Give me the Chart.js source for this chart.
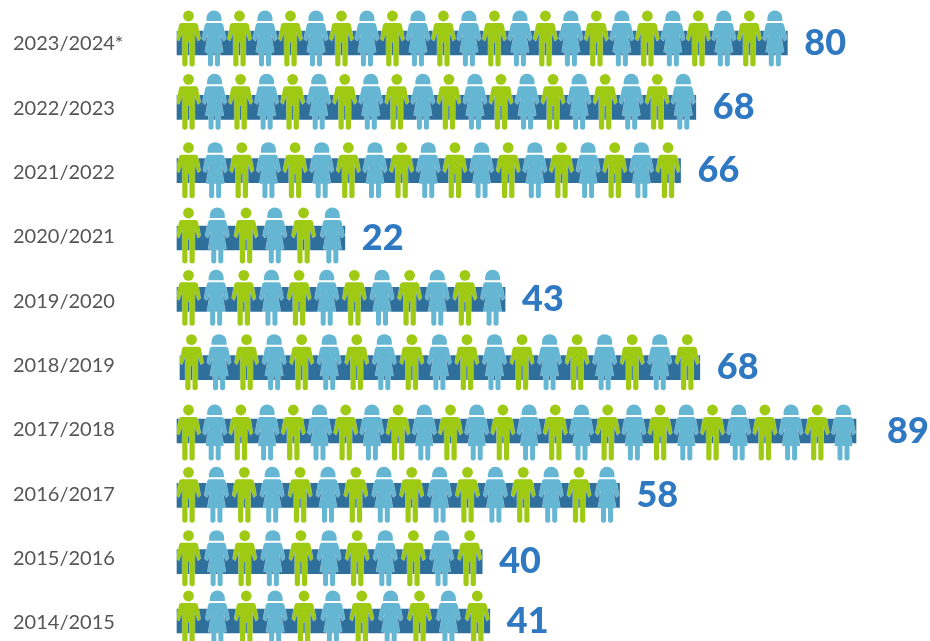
<!DOCTYPE html>
<html>
<head>
<meta charset="utf-8">
<title>Chart</title>
<script src="https://cdn.jsdelivr.net/npm/chart.js@4"></script>
<style>
  html, body { margin: 0; padding: 0; background: #fff; overflow: hidden; }
  #wrap { width: 930px; height: 641px; }
</style>
</head>
<body>
<div id="wrap"><canvas id="chart"></canvas></div>
<script>
const seasons = ['2023/2024*', '2022/2023', '2021/2022', '2020/2021', '2019/2020', '2018/2019', '2017/2018', '2016/2017', '2015/2016', '2014/2015'];
const values = [80, 68, 66, 22, 43, 68, 89, 58, 40, 41];
const figureCounts = [24, 20, 19, 6, 12, 19, 26, 16, 11, 11];

const GREEN = '#9fca13';
const BLUE = '#64b6d2';

// The original rows are hand placed, so they sit a few px off an even grid
const rowShift = [0, 0, -1, 2, -1, 3, 2, 2, 4, -1];
const figureShift = [0, -1, 4, 2, 3, -1, 6, 4, 1, 2];

// Man, drawn around the middle of the bar
function drawMan(ctx, x, y) {
  ctx.fillStyle = GREEN;
  ctx.beginPath();
  ctx.arc(x, y - 27, 5.4, 0, Math.PI * 2);
  ctx.fill();
  ctx.beginPath();
  ctx.moveTo(x - 7, y - 20);
  ctx.lineTo(x + 7, y - 20);
  ctx.quadraticCurveTo(x + 9, y - 20, x + 9.5, y - 18);
  ctx.lineTo(x + 12, y - 4);
  ctx.lineTo(x + 9.5, y - 2);
  ctx.lineTo(x + 6.2, y - 11);
  ctx.lineTo(x + 6.2, y + 22);
  ctx.quadraticCurveTo(x + 3.6, y + 25, x + 1, y + 22);
  ctx.lineTo(x + 1, y - 1);
  ctx.lineTo(x - 1, y - 1);
  ctx.lineTo(x - 1, y + 22);
  ctx.quadraticCurveTo(x - 3.6, y + 25, x - 6.2, y + 22);
  ctx.lineTo(x - 6.2, y - 11);
  ctx.lineTo(x - 9.5, y - 2);
  ctx.lineTo(x - 12, y - 4);
  ctx.lineTo(x - 9.5, y - 18);
  ctx.quadraticCurveTo(x - 9, y - 20, x - 7, y - 20);
  ctx.closePath();
  ctx.stroke();
  ctx.fill();
}

// Woman, same footprint as the man
function drawWoman(ctx, x, y) {
  ctx.fillStyle = BLUE;
  ctx.beginPath();
  ctx.moveTo(x - 7.5, y - 22);
  ctx.lineTo(x - 7.5, y - 25);
  ctx.arc(x, y - 25, 7.5, Math.PI, 0);
  ctx.lineTo(x + 7.5, y - 22);
  ctx.closePath();
  ctx.fill();
  ctx.beginPath();
  ctx.moveTo(x - 7, y - 20);
  ctx.lineTo(x + 7, y - 20);
  ctx.quadraticCurveTo(x + 9, y - 20, x + 9.5, y - 17);
  ctx.lineTo(x + 12, y - 4);
  ctx.lineTo(x + 9.5, y - 2);
  ctx.lineTo(x + 6, y - 9);
  ctx.lineTo(x + 9, y + 9);
  ctx.lineTo(x + 6, y + 9);
  ctx.lineTo(x + 6, y + 22);
  ctx.quadraticCurveTo(x + 3.5, y + 25, x + 1, y + 22);
  ctx.lineTo(x + 1, y + 9);
  ctx.lineTo(x - 1, y + 9);
  ctx.lineTo(x - 1, y + 22);
  ctx.quadraticCurveTo(x - 3.5, y + 25, x - 6, y + 22);
  ctx.lineTo(x - 6, y + 9);
  ctx.lineTo(x - 9, y + 9);
  ctx.lineTo(x - 6, y - 9);
  ctx.lineTo(x - 9.5, y - 2);
  ctx.lineTo(x - 12, y - 4);
  ctx.lineTo(x - 9.5, y - 17);
  ctx.quadraticCurveTo(x - 9, y - 20, x - 7, y - 20);
  ctx.closePath();
  ctx.stroke();
  ctx.fill();
}

// Figures and the big numbers sit on top of each bar
const figuresPlugin = {
  id: 'figures',
  afterDatasetsUpdate: function (chart) {
    chart.getDatasetMeta(0).data.forEach(function (bar, i) {
      bar.y += rowShift[i];
      // 2018/2019 starts a bit to the right of the others
      if (i === 5) {
        bar.x += 4;
        bar.base += 3;
      }
    });
  },
  afterDatasetsDraw: function (chart) {
    const ctx = chart.ctx;
    const bars = chart.getDatasetMeta(0).data;
    ctx.save();
    ctx.strokeStyle = 'rgba(255,255,255,0.7)';
    ctx.lineWidth = 0.8;
    bars.forEach(function (bar, i) {
      const n = figureCounts[i];
      const first = bar.base + 11.5;
      const step = (bar.x - 12.5 - first) / (n - 1);
      for (let k = 0; k < n; k++) {
        if (k % 2 === 0) {
          drawMan(ctx, first + k * step, bar.y + figureShift[i]);
        } else {
          drawWoman(ctx, first + k * step, bar.y + figureShift[i]);
        }
      }
      ctx.fillStyle = '#2f78c2';
      ctx.font = '900 36px Lato';
      ctx.textAlign = 'left';
      ctx.textBaseline = 'middle';
      ctx.fillText(String(values[i]), bar.x + (i === 6 ? 31 : 17), bar.y);
    });
    ctx.restore();
  }
};

new Chart(document.getElementById('chart'), {
  type: 'bar',
  data: {
    labels: seasons,
    datasets: [{
      data: values,
      backgroundColor: '#2e6f9c',
      barThickness: 24,
      clip: false
    }]
  },
  options: {
    indexAxis: 'y',
    responsive: true,
    maintainAspectRatio: false,
    animation: false,
    layout: { padding: { left: 13, right: 0, top: 43, bottom: 19 } },
    plugins: {
      legend: { display: false },
      tooltip: { enabled: false }
    },
    scales: {
      x: {
        display: false,
        min: 0,
        max: 98.7
      },
      y: {
        offset: false,
        afterFit: function (scale) { scale.width = 164; },
        border: { display: false },
        grid: { display: false, drawTicks: false },
        ticks: {
          crossAlign: 'far',
          padding: 0,
          labelOffset: 1,
          color: '#555555',
          font: { family: 'Lato', size: 20 }
        }
      }
    }
  },
  plugins: [figuresPlugin]
});
</script>
</body>
</html>
